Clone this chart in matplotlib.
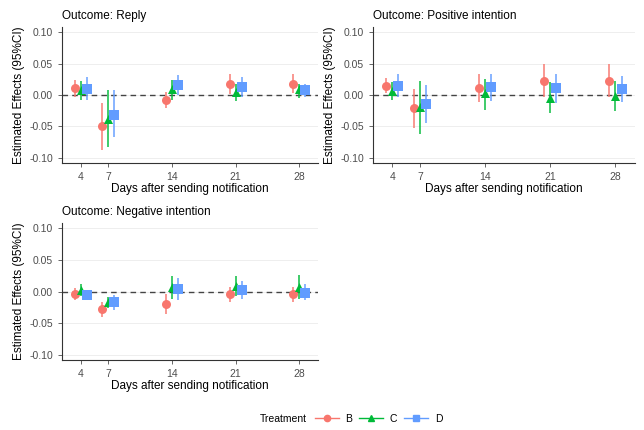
import matplotlib
matplotlib.use('Agg')
import matplotlib.pyplot as plt
from matplotlib.lines import Line2D

plt.rcParams['font.family'] = ['Liberation Sans', 'DejaVu Sans']

# data
days = [4, 7, 14, 21, 28]
treatments = ['B', 'C', 'D']
outcomes = ['Reply', 'Positive intention', 'Negative intention']

# point estimates per outcome / treatment
est = {
    'Reply': {
        'B': [0.0105, -0.050, -0.008, 0.017, 0.018],
        'C': [0.008, -0.038, 0.010, 0.005, 0.009],
        'D': [0.0095, -0.031, 0.016, 0.013, 0.008],
    },
    'Positive intention': {
        'B': [0.014, -0.021, 0.011, 0.022, 0.023],
        'C': [0.007, -0.019, 0.003, -0.004, -0.002],
        'D': [0.014, -0.014, 0.012, 0.011, 0.009],
    },
    'Negative intention': {
        'B': [-0.004, -0.028, -0.019, -0.004, -0.004],
        'C': [0.002, -0.017, 0.007, 0.009, 0.007],
        'D': [-0.005, -0.016, 0.004, 0.002, -0.002],
    },
}
lower = {
    'Reply': {
        'B': [-0.003, -0.087, -0.021, 0.001, 0.003],
        'C': [-0.008, -0.082, -0.008, -0.009, -0.005],
        'D': [-0.008, -0.067, 0.000, -0.003, -0.003],
    },
    'Positive intention': {
        'B': [0.003, -0.053, -0.011, -0.003, -0.003],
        'C': [-0.008, -0.062, -0.024, -0.029, -0.026],
        'D': [-0.003, -0.045, -0.009, -0.013, -0.011],
    },
    'Negative intention': {
        'B': [-0.013, -0.041, -0.036, -0.017, -0.017],
        'C': [-0.007, -0.026, -0.011, -0.007, -0.011],
        'D': [-0.013, -0.029, -0.014, -0.012, -0.014],
    },
}
upper = {
    'Reply': {
        'B': [0.024, -0.013, 0.005, 0.033, 0.034],
        'C': [0.022, 0.008, 0.024, 0.018, 0.018],
        'D': [0.029, 0.008, 0.032, 0.029, 0.018],
    },
    'Positive intention': {
        'B': [0.027, 0.010, 0.033, 0.050, 0.050],
        'C': [0.021, 0.022, 0.026, 0.021, 0.022],
        'D': [0.033, 0.016, 0.033, 0.034, 0.031],
    },
    'Negative intention': {
        'B': [0.005, -0.017, -0.004, 0.007, 0.007],
        'C': [0.012, -0.009, 0.025, 0.025, 0.026],
        'D': [0.001, -0.005, 0.021, 0.016, 0.012],
    },
}

colors = {'B': '#F8766D', 'C': '#00BA38', 'D': '#619CFF'}
markers = {'B': 'o', 'C': '^', 'D': 's'}
offsets = {'B': -0.65, 'C': 0.0, 'D': 0.65}

fig = plt.figure(figsize=(6.44, 4.30), dpi=100)
positions = [
    [0.0963, 0.621, 0.398, 0.316],
    [0.579, 0.621, 0.407, 0.316],
    [0.0963, 0.163, 0.398, 0.318],
]

for outcome, pos in zip(outcomes, positions):
    ax = fig.add_axes(pos)
    for t in treatments:
        xs = [d + offsets[t] for d in days]
        ax.vlines(xs, lower[outcome][t], upper[outcome][t],
                  color=colors[t], lw=1.4, alpha=0.75, zorder=3)
        ax.scatter(xs, est[outcome][t], marker=markers[t], s=42,
                   color=colors[t], zorder=4, linewidths=0)
    ax.axhline(0, color='#444444', lw=1.0, ls=(0, (4, 3)), zorder=2)
    ax.set_xlim(1.9, 30.1)
    ax.set_ylim(-0.108, 0.108)
    ax.set_xticks(days)
    ax.set_yticks([-0.10, -0.05, 0.0, 0.05, 0.10])
    ax.set_yticklabels(['-0.10', '-0.05', '0.00', '0.05', '0.10'])
    ax.grid(axis='y', color='#EBEBEB', lw=0.6)
    ax.set_axisbelow(True)
    for s in ['top', 'right']:
        ax.spines[s].set_visible(False)
    for s in ['left', 'bottom']:
        ax.spines[s].set_color('#333333')
        ax.spines[s].set_linewidth(0.8)
    ax.tick_params(labelsize=7.5, colors='#4D4D4D', length=3, width=0.6)
    ax.set_xlabel('Days after sending notification', fontsize=8.5, labelpad=1)
    ax.set_ylabel('Estimated Effects (95%CI)', fontsize=8.5, labelpad=3)
    ax.set_title('Outcome: ' + outcome, fontsize=8.5, loc='left', pad=6)

handles = [Line2D([0], [0], color=colors[t], marker=markers[t], markersize=4.5, lw=1)
           for t in treatments]
fig.text(0.477, 0.026, 'Treatment', fontsize=7.5, va='center', ha='right')
fig.legend(handles, treatments, loc='center left', bbox_to_anchor=(0.478, 0.026),
           ncol=3, frameon=False, fontsize=7.5, handlelength=2.3, columnspacing=0.7,
           handletextpad=0.6, borderpad=0.2)

plt.savefig('out.png', dpi=100)
